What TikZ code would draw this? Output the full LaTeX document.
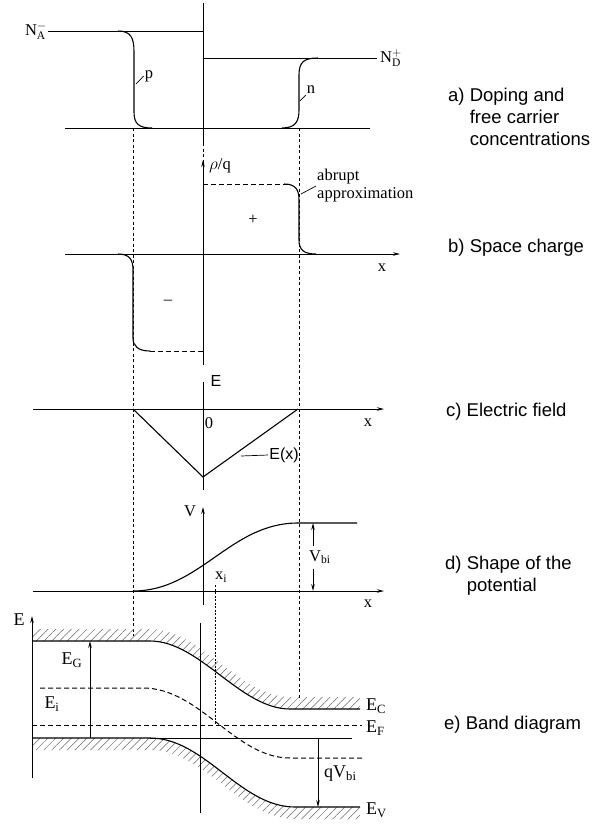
\documentclass[tikz,border=0pt]{standalone}
\usepackage{fontspec}
\setmainfont{Liberation Serif}
\setsansfont{Liberation Sans}
\usetikzlibrary{arrows.meta, positioning, patterns.meta}

\begin{document}
\begin{tikzpicture}[x=1pt, y=-1pt,
    curve/.style={line width=1.1pt},
    thinline/.style={line width=0.7pt},
    guide/.style={line width=0.6pt, dash pattern=on 3pt off 2.5pt},
    axis/.style={line width=0.8pt, -{Stealth[length=7pt,width=3.5pt]}},
    level/.style={line width=1pt, dash pattern=on 5pt off 3pt},
    hatch/.style={pattern={Lines[angle=45,distance=5.5pt,line width=0.5pt]}, pattern color=black!60},
    lab/.style={font=\fontsize{16.5}{18}\selectfont, inner sep=1pt},
    slab/.style={font=\sffamily\fontsize{16}{18}\selectfont, inner sep=1pt},
    caption/.style={font=\sffamily\fontsize{18.5}{22}\selectfont, anchor=west, inner sep=0pt, align=left},
]
    \useasboundingbox (0,0) rectangle (598,825);

    % depletion edges
    \foreach \xx/\yy in {133/636, 299/700} {
        \draw[guide] (\xx,128) -- (\xx,\yy);
    }

    % a) doping
    \draw[thinline] (203,3) -- (203,143);
    \draw[thinline] (48,31) -- (203,31);
    \draw[thinline] (203,58) -- (377,58);
    \draw[thinline] (65,128) -- (370,128);
    \draw[curve] (118,31) .. controls (131,31) and (134,38) .. (134,52) -- (134,112)
        .. controls (134,124) and (139,128) .. (152,128);
    \draw[curve] (282,128) .. controls (295,128) and (299,122) .. (299,110) -- (299,75)
        .. controls (299,62) and (304,58) .. (318,58);
    \node[lab, anchor=east] (na) at (48,31) {N$_\mathrm{A}^-$};
    \node[lab, anchor=west] (nd) at (379,58) {N$_\mathrm{D}^+$};
    \node[lab] (plab) at (149,76) {p};
    \coordinate (pfoot) at (136,84);
    \draw[thinline] (pfoot) -- (plab.west);
    \node[lab] (nlab) at (311,90) {n};
    \coordinate (nfoot) at (300,101);
    \draw[thinline] (nfoot) -- (nlab.south west);

    % b) space charge
    \draw[guide] (203,143) -- (203,163);
    \draw[axis] (65,254) -- (400,254);
    \draw[axis] (203,365) -- (203,160);
    \draw[level, thinline] (203,184) -- (290,184);
    \draw[curve] (284,184) .. controls (296,184) and (299,190) .. (299,200) -- (299,240)
        .. controls (299,250) and (304,254) .. (316,254);
    \draw[curve] (118,254) .. controls (130,254) and (133,260) .. (133,270) -- (133,338)
        .. controls (133,346) and (138,351) .. (150,351);
    \draw[level, thinline] (150,351) -- (203,351);
    \node[lab, anchor=west] (rho) at (208,166) {$\rho$/q};
    \node[lab, anchor=west, align=left] (abr) at (316,186) {abrupt\\approximation};
    \coordinate (afoot) at (301,194);
    \draw[thinline] (afoot) -- (abr.west);
    \node[lab] (plus) at (253,220) {+};
    \node[lab] (minus) at (168,302) {--};
    \node[lab] (xb) at (382,268) {x};

    % c) electric field
    \draw[axis] (33,409) -- (384,409);
    \draw[thinline] (203,382) -- (203,490);
    \draw[curve] (133,409) -- (203,477) -- (298,409);
    \node[slab] (ec) at (216,381) {E};
    \node[lab] (zero) at (209,423) {0};
    \node[lab] (xc) at (368,423) {x};
    \node[slab] (exl) at (284,455) {E(x)};
    \coordinate (efoot) at (241,456);
    \draw[thinline] (efoot) -- (exl.west);

    % d) potential
    \draw[axis] (33,591) -- (384,591);
    \draw[axis] (203,605) -- (203,507);
    \draw[curve] (133,591) .. controls (200,591) and (230,523) .. (298,523) -- (357,523);
    \draw[line width=1pt, dash pattern=on 2pt off 1.5pt] (215,585) -- (215,725);
    \node[lab] (vd) at (190,511) {V};
    \node[lab] (xi) at (221,577) {x$_\mathrm{i}$};
    \node[lab] (xd) at (368,604) {x};
    \node[lab, anchor=west] (vbi) at (308,557) {V$_\mathrm{bi}$};
    \coordinate (vtop) at (313,523);
    \coordinate (vbot) at (313,591);
    \draw[axis] (313,546) -- (vtop);
    \draw[axis] (313,569) -- (vbot);

    % e) band diagram
    \fill[hatch] (32,641) -- (150,641) .. controls (200,641) and (240,709) .. (290,709) -- (360,709)
        -- (360,697) -- (290,697) .. controls (240,697) and (200,629) .. (150,629) -- (32,629) -- cycle;
    \fill[hatch] (32,738) -- (150,738) .. controls (205,738) and (240,807) .. (295,807) -- (360,807)
        -- (360,819) -- (295,819) .. controls (240,819) and (205,750) .. (150,750) -- (32,750) -- cycle;
    \draw[curve] (32,641) -- (150,641) .. controls (200,641) and (240,709) .. (290,709) -- (360,709);
    \draw[curve] (32,738) -- (150,738) .. controls (205,738) and (240,807) .. (295,807) -- (360,807);
    \draw[thinline] (150,738) -- (352,738);
    \draw[level] (32,725) -- (362,725);
    \draw[level] (40,688) -- (143,688) .. controls (200,688) and (235,758) .. (290,758) -- (362,758);
    \draw[thinline] (200,623) -- (200,813);
    \draw[axis] (32,778) -- (32,616);
    \draw[axis] (90,738) -- (90,641);
    \draw[axis] (318,738) -- (318,807);
    \node[lab, font=\fontsize{18}{20}\selectfont] (eaxis) at (19,620) {E};
    \node[lab, font=\fontsize{18}{20}\selectfont] (eg) at (72,660) {E$_\mathrm{G}$};
    \node[lab, font=\fontsize{18}{20}\selectfont] (ei) at (52,704) {E$_\mathrm{i}$};
    \node[lab, anchor=west, font=\fontsize{18}{20}\selectfont] (ecl) at (365,706) {E$_\mathrm{C}$};
    \node[lab, anchor=west, font=\fontsize{18}{20}\selectfont] (efl) at (365,728) {E$_\mathrm{F}$};
    \node[lab, anchor=west, font=\fontsize{18}{20}\selectfont] (evl) at (365,810) {E$_\mathrm{V}$};
    \node[lab, anchor=west, font=\fontsize{18}{20}\selectfont] (qvbi) at (323,774) {qV$_\mathrm{bi}$};

    % captions
    \node[caption] (capa) at (448,119) {\begin{tabular}{@{}l@{ }l@{}}a) & Doping and\\ & free carrier\\ & concentrations\end{tabular}};
    \node[caption] (capb) at (448,248) {b) Space charge};
    \node[caption] (capc) at (446,412) {c) Electric field};
    \node[caption] (capd) at (445,576) {\begin{tabular}{@{}l@{ }l@{}}d) & Shape of the\\ & potential\end{tabular}};
    \node[caption] (cape) at (444,725) {e) Band diagram};
\end{tikzpicture}
\end{document}
